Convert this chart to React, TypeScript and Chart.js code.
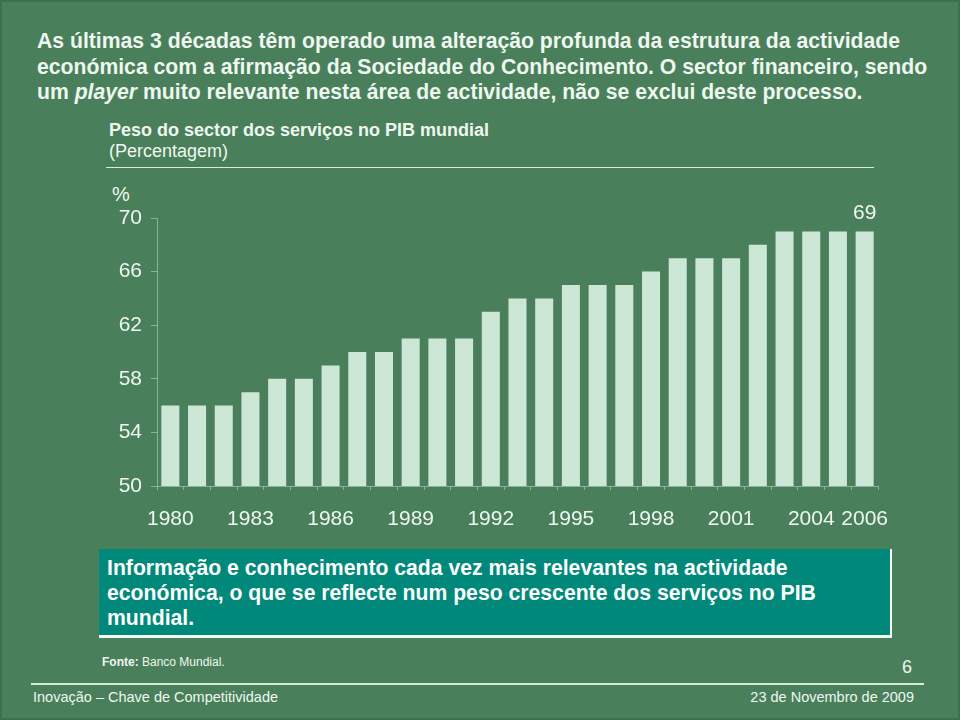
import React, { useEffect, useRef } from "react";
import { Chart, registerables } from "chart.js";

Chart.register(...registerables);

const years: string[] = [
  "1980", "1981", "1982", "1983", "1984", "1985", "1986", "1987", "1988",
  "1989", "1990", "1991", "1992", "1993", "1994", "1995", "1996", "1997",
  "1998", "1999", "2000", "2001", "2002", "2003", "2004", "2005", "2006",
];
const servicesShare: number[] = [
  56, 56, 56, 57, 58, 58, 59, 60, 60,
  61, 61, 61, 63, 64, 64, 65, 65, 65,
  66, 67, 67, 67, 68, 69, 69, 69, 69,
];
const shownYearLabels: string[] = ["1980", "1983", "1986", "1989", "1992", "1995", "1998", "2001", "2004", "2006"];
const yMin = 50;
const yMax = 70;
const yStep = 4;
const lastValueLabel = "69";

const FONT = "Arial, 'Liberation Sans', Helvetica, sans-serif";
const BG = "#4a7f5b";
const BAR = "#cde7d6";
const TXT = "#eef7f0";
const AXIS = "#86b494";

const lastLabelPlugin = {
  id: "lastLabel",
  afterDatasetsDraw(chart: any) {
    const meta = chart.getDatasetMeta(0);
    const el = meta.data[meta.data.length - 1];
    if (!el) return;
    const ctx = chart.ctx;
    ctx.save();
    ctx.fillStyle = TXT;
    ctx.font = `21px ${FONT}`;
    ctx.textAlign = "center";
    ctx.textBaseline = "bottom";
    ctx.fillText(lastValueLabel, el.x, el.y - 8);
    ctx.restore();
  },
};

function BarChart() {
  const ref = useRef<HTMLCanvasElement | null>(null);
  useEffect(() => {
    if (!ref.current) return;
    const chart = new Chart(ref.current, {
      type: "bar",
      data: {
        labels: years,
        datasets: [
          {
            data: servicesShare,
            backgroundColor: BAR,
            borderWidth: 0,
            barPercentage: 0.675,
            categoryPercentage: 1,
          },
        ],
      },
      options: {
        animation: false,
        responsive: false,
        maintainAspectRatio: false,
        layout: { padding: { top: 16, right: 24, left: 0, bottom: 0 } },
        plugins: {
          legend: { display: false },
          tooltip: { enabled: false },
          title: { display: false },
        },
        scales: {
          x: {
            grid: {
              offset: true,
              drawOnChartArea: false,
              drawTicks: true,
              tickLength: 4,
              color: AXIS,
            },
            border: { display: true, color: AXIS, width: 1 },
            ticks: {
              autoSkip: false,
              maxRotation: 0,
              minRotation: 0,
              padding: 17,
              color: TXT,
              font: { family: FONT, size: 21 },
              callback: (_v: any, i: number) =>
                shownYearLabels.includes(years[i]) ? years[i] : "",
            },
            afterFit: (s: any) => {
              s.height = 46;
              s.paddingLeft = 0;
              s.paddingRight = 0;
            },
          },
          y: {
            min: yMin,
            max: yMax,
            grid: {
              drawOnChartArea: false,
              drawTicks: true,
              tickLength: 6,
              color: AXIS,
            },
            border: { display: true, color: AXIS, width: 1 },
            ticks: {
              stepSize: yStep,
              padding: 9,
              color: TXT,
              font: { family: FONT, size: 21 },
            },
            afterFit: (s: any) => {
              s.width = 55;
              s.paddingTop = 0;
              s.paddingBottom = 0;
            },
          },
        },
      },
      plugins: [lastLabelPlugin],
    });
    return () => chart.destroy();
  }, []);
  return (
    <canvas
      ref={ref}
      width={800}
      height={330}
      style={{ position: "absolute", left: 100, top: 200, width: 800, height: 330 }}
    />
  );
}

export default function App() {
  useEffect(() => {
    document.body.style.margin = "0";
  }, []);
  const abs = (s: React.CSSProperties): React.CSSProperties => ({ position: "absolute", ...s });
  return (
    <div
      style={{
        position: "fixed",
        left: 0,
        top: 0,
        width: 960,
        height: 720,
        background: BG,
        fontFamily: FONT,
        color: TXT,
        overflow: "hidden",
        boxSizing: "border-box",
        border: "2px solid #3f6e50",
      }}
    >
      <div
        style={abs({
          left: 35,
          top: 26,
          fontSize: 21.2,
          fontWeight: "bold",
          lineHeight: "25.5px",
          whiteSpace: "nowrap",
        })}
      >
        <div>As últimas 3 décadas têm operado uma alteração profunda da estrutura da actividade</div>
        <div>económica com a afirmação da Sociedade do Conhecimento. O sector financeiro, sendo</div>
        <div>
          um <i>player</i> muito relevante nesta área de actividade, não se exclui deste processo.
        </div>
      </div>
      <div style={abs({ left: 107, top: 118, fontSize: 18, lineHeight: "21px", whiteSpace: "nowrap" })}>
        <div style={{ fontWeight: "bold" }}>Peso do sector dos serviços no PIB mundial</div>
        <div>(Percentagem)</div>
      </div>
      <div style={abs({ left: 104, top: 165, width: 768, height: 1, background: "#d8eadc" })} />
      <div style={abs({ left: 110, top: 181, fontSize: 20 })}>%</div>
      <BarChart />
      <div
        style={abs({
          left: 97,
          top: 547,
          width: 791,
          height: 86,
          background: "#00897a",
          borderRight: "2px solid #f2f7f3",
          borderBottom: "3px solid #f2f7f3",
        })}
      />
      <div
        style={abs({
          left: 105,
          top: 553,
          fontSize: 21.2,
          fontWeight: "bold",
          lineHeight: "25px",
          whiteSpace: "nowrap",
          color: "#ffffff",
        })}
      >
        <div>Informação e conhecimento cada vez mais relevantes na actividade</div>
        <div>económica, o que se reflecte num peso crescente dos serviços no PIB</div>
        <div>mundial.</div>
      </div>
      <div style={abs({ left: 100, top: 653, fontSize: 12, whiteSpace: "nowrap" })}>
        <b>Fonte:</b> Banco Mundial.
      </div>
      <div style={abs({ left: 900, top: 655, fontSize: 18 })}>6</div>
      <div style={abs({ left: 29, top: 681, width: 893, height: 2, background: "#d8eadc" })} />
      <div style={abs({ left: 31, top: 687, fontSize: 14.5, whiteSpace: "nowrap" })}>
        Inovação – Chave de Competitividade
      </div>
      <div style={abs({ right: 44, top: 687, fontSize: 14.5, whiteSpace: "nowrap" })}>
        23 de Novembro de 2009
      </div>
    </div>
  );
}
